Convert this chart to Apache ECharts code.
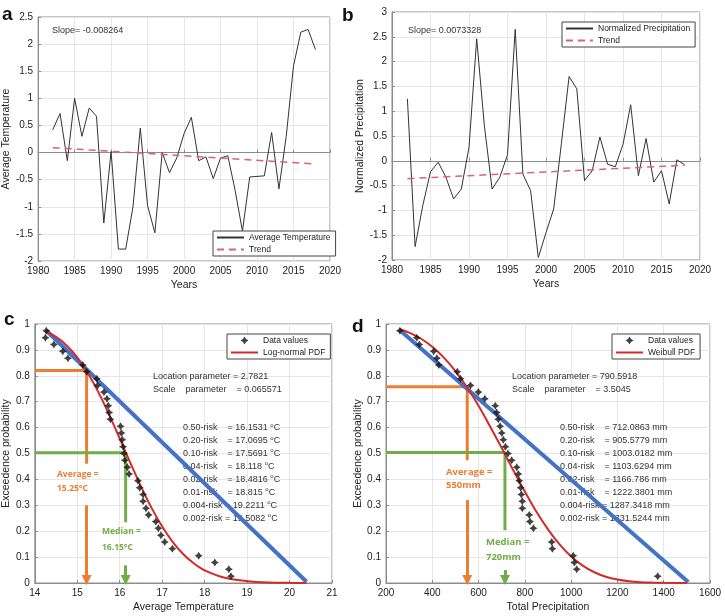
<!DOCTYPE html>
<html><head><meta charset="utf-8">
<script src="https://cdn.jsdelivr.net/npm/echarts@6/dist/echarts.min.js"></script>
<style>html,body{margin:0;padding:0;background:#fff}#c{width:725px;height:616px}</style>
</head><body><div id="c"></div>
<script>
// ---------- Panel a / b : time series ----------
const years = [1982,1983,1984,1985,1986,1987,1988,1989,1990,1991,1992,1993,1994,1995,1996,1997,1998,1999,2000,2001,2002,2003,2004,2005,2006,2007,2008,2009,2010,2011,2012,2013,2014,2015,2016,2017,2018];
const avgTemp = [0.42,0.72,-0.15,1.0,0.3,0.82,0.67,-1.3,0.02,-1.78,-1.78,-1.0,0.45,-0.98,-1.48,0.0,-0.37,-0.1,0.35,0.65,-0.15,-0.08,-0.48,-0.1,-0.06,-0.7,-1.45,-0.45,-0.44,-0.43,0.37,-0.67,0.3,1.6,2.22,2.27,1.9];
const tempTrendYears = [1982, 2018];
const tempTrend = [0.09, -0.21];
const normPrecip = [1.25,-1.73,-0.9,-0.22,-0.03,-0.33,-0.77,-0.57,0.27,2.46,0.7,-0.57,-0.33,0.12,2.65,-0.27,-0.6,-1.95,-1.45,-0.97,0.35,1.7,1.45,-0.4,-0.2,0.48,-0.07,-0.12,0.33,1.13,-0.3,0.45,-0.43,-0.2,-0.87,0.02,-0.08];
const precipTrendYears = [1982, 2018];
const precipTrend = [-0.36, -0.09];

// ---------- Panel c : temperature exceedance ----------
const tempObs = [14.27,14.25,14.45,14.66,14.78,15.13,15.22,15.46,15.48,15.63,15.70,15.73,15.75,15.78,16.02,16.04,16.06,16.08,16.10,16.12,16.18,16.22,16.43,16.47,16.55,16.55,16.62,16.68,16.85,16.91,16.97,17.06,17.24,17.86,18.24,18.57,18.62];
const tempObsProb = [0.974,0.947,0.921,0.895,0.868,0.842,0.816,0.789,0.763,0.737,0.711,0.684,0.658,0.632,0.605,0.579,0.553,0.526,0.500,0.474,0.447,0.421,0.395,0.368,0.342,0.316,0.289,0.263,0.237,0.211,0.184,0.158,0.132,0.105,0.079,0.053,0.026];
const lognormX = [14.25,14.5,14.75,15,15.25,15.5,15.75,16,16.25,16.5,16.75,17,17.25,17.5,17.75,18,18.5,19,19.5,20,20.4];
const lognormY = [0.972,0.950,0.917,0.871,0.810,0.736,0.650,0.558,0.464,0.373,0.290,0.218,0.158,0.111,0.075,0.049,0.019,0.007,0.002,0.0006,0.0002];
const tempLinX = [14.27, 20.4];
const tempLinY = [0.975, 0.005];
const tempAvgGuide = [[14,0.82],[15.22,0.82],[15.22,0.46]];
const tempAvgArrow = [[15.22,0.30],[15.22,0.012]];
const tempMedGuide = [[14,0.503],[16.14,0.503],[16.14,0.235]];
const tempMedArrow = [[16.14,0.068],[16.14,0.012]];
const tempRisk = [['0.50','16.1531'],['0.20','17.0695'],['0.10','17.5691'],['0.04','18.118'],['0.02','18.4816'],['0.01','18.815'],['0.004','19.2211'],['0.002','19.5082']];

// ---------- Panel d : precipitation exceedance ----------
const precipObs = [260,333,344,406,420,428,508,522,565,599,627,672,678,685,693,700,707,716,727,743,765,772,776,782,785,789,789,819,822,837,916,919,1009,1014,1024,1374];
const precipObsProb = [0.974,0.947,0.921,0.895,0.868,0.842,0.816,0.789,0.763,0.737,0.711,0.684,0.658,0.632,0.605,0.579,0.553,0.526,0.500,0.474,0.447,0.421,0.395,0.368,0.342,0.316,0.289,0.263,0.237,0.211,0.158,0.132,0.105,0.079,0.053,0.026];
const weibullX = [260,300,350,400,450,500,550,600,650,700,750,800,850,900,950,1000,1050,1100,1150,1200,1250,1300,1350,1400,1500];
const weibullY = [0.980,0.967,0.944,0.912,0.870,0.818,0.756,0.684,0.604,0.521,0.435,0.353,0.275,0.207,0.149,0.102,0.067,0.0415,0.0243,0.0134,0.0069,0.0033,0.0015,0.0006,0.0001];
const precipLinX = [258, 1506];
const precipLinY = [0.978, 0.004];
const precipAvgGuide = [[200,0.758],[551,0.758],[551,0.474]];
const precipAvgArrow = [[551,0.32],[551,0.012]];
const precipMedGuide = [[200,0.504],[714,0.504],[714,0.204]];
const precipMedArrow = [[714,0.05],[714,0.012]];
const precipRisk = [['0.50','712.0863'],['0.20','905.5779'],['0.10','1003.0182'],['0.04','1103.6294'],['0.02','1166.786'],['0.01','1222.3801'],['0.004','1287.3418'],['0.002','1331.5244']];

// ---------- build ----------
const FONT = 'Liberation Sans, Arial, sans-serif';
const ORANGE = '#ED7D31', GREEN = '#70AD47', BLUE = '#4472C4', RED = '#D42A2A', TREND = '#D9646C';
const zip = (xs, ys) => xs.map((x, i) => [x, ys[i]]);
const STAR = 'path://M0,-5L1.9,-1.9L5,0L1.9,1.9L0,5L-1.9,1.9L-5,0L-1.9,-1.9Z';

function axis(gi, min, max, interval, name, nameGap) {
  return {
    type: 'value', gridIndex: gi, min, max, interval, name,
    nameLocation: 'middle', nameGap,
    nameTextStyle: { fontSize: 10.5, color: '#222', fontFamily: FONT },
    axisLabel: { fontSize: 10, color: '#222', fontFamily: FONT, margin: 5, formatter: v => String(+v.toFixed(4)) },
    axisLine: { show: true, lineStyle: { color: '#8c8c8c' } },
    axisTick: { show: true, inside: true, length: 3, lineStyle: { color: '#8c8c8c' } },
    splitLine: { show: true, lineStyle: { color: '#e6e6e6' } }
  };
}
const grid = (l, t, w, h) => ({ left: l, top: t, width: w, height: h, show: true, borderColor: '#8c8c8c', borderWidth: 1, backgroundColor: '#fff' });

const noSym = { color: 'rgba(0,0,0,0)', borderColor: 'rgba(0,0,0,0)', borderWidth: 0 };
function legend(left, top, data) {
  return { left, top, orient: 'vertical',
    data: data.map(d => typeof d === 'string' ? { name: d, itemStyle: noSym } : d),
    itemWidth: 27, itemHeight: 8, itemGap: 3,
    padding: [2, 5, 2, 3], borderColor: '#444', borderWidth: 1, backgroundColor: '#fff', borderRadius: 0,
    selectedMode: false, textStyle: { fontSize: 8.5, color: '#222', fontFamily: FONT } };
}

function guide(gi, data, color) {
  return { type: 'line', xAxisIndex: gi, yAxisIndex: gi, data, symbol: 'none', silent: true, z: 2,
    lineStyle: { color, width: 3 }, itemStyle: { color } };
}
function arrow(gi, seg, color) {
  return { type: 'line', xAxisIndex: gi, yAxisIndex: gi, data: [], symbol: 'none', silent: true,
    markLine: { silent: true, symbol: ['none', 'triangle'], symbolSize: 10, label: { show: false },
      lineStyle: { type: 'solid', color, width: 3 }, emphasis: { disabled: true },
      data: [[{ coord: seg[0] }, { coord: seg[1] }]] } };
}

const series = [
  { name: 'Average Temperature', type: 'line', xAxisIndex: 0, yAxisIndex: 0, data: zip(years, avgTemp), symbol: 'none', lineStyle: { color: '#333', width: 1 }, itemStyle: { color: '#333' } },
  { name: 'Trend', type: 'line', xAxisIndex: 0, yAxisIndex: 0, data: zip(tempTrendYears, tempTrend), symbol: 'none', lineStyle: { color: TREND, width: 1.5, type: [7, 5] }, itemStyle: { color: TREND } },
  { name: 'Normalized Precipitation', type: 'line', xAxisIndex: 1, yAxisIndex: 1, data: zip(years, normPrecip), symbol: 'none', lineStyle: { color: '#333', width: 1 }, itemStyle: { color: '#333' } },
  { name: 'Trend', type: 'line', xAxisIndex: 1, yAxisIndex: 1, data: zip(precipTrendYears, precipTrend), symbol: 'none', lineStyle: { color: TREND, width: 1.5, type: [7, 5] }, itemStyle: { color: TREND } },

  guide(2, tempAvgGuide, ORANGE), arrow(2, tempAvgArrow, ORANGE),
  guide(2, tempMedGuide, GREEN), arrow(2, tempMedArrow, GREEN),
  { type: 'line', xAxisIndex: 2, yAxisIndex: 2, data: zip(tempLinX, tempLinY), symbol: 'none', lineStyle: { color: BLUE, width: 4 }, silent: true },
  { name: 'Log-normal PDF', type: 'line', xAxisIndex: 2, yAxisIndex: 2, data: zip(lognormX, lognormY), symbol: 'none', smooth: 0.3, lineStyle: { color: RED, width: 2 }, itemStyle: { color: RED } },
  { name: 'Data values', type: 'scatter', xAxisIndex: 2, yAxisIndex: 2, data: zip(tempObs, tempObsProb), symbol: STAR, symbolSize: 8, symbolKeepAspect: true, itemStyle: { color: '#111' }, z: 5 },

  guide(3, precipAvgGuide, ORANGE), arrow(3, precipAvgArrow, ORANGE),
  guide(3, precipMedGuide, GREEN), arrow(3, precipMedArrow, GREEN),
  { type: 'line', xAxisIndex: 3, yAxisIndex: 3, data: zip(precipLinX, precipLinY), symbol: 'none', lineStyle: { color: BLUE, width: 4 }, silent: true },
  { name: 'Weibull PDF', type: 'line', xAxisIndex: 3, yAxisIndex: 3, data: zip(weibullX, weibullY), symbol: 'none', smooth: 0.3, lineStyle: { color: RED, width: 2 }, itemStyle: { color: RED } },
  { name: 'Data values', type: 'scatter', xAxisIndex: 3, yAxisIndex: 3, data: zip(precipObs, precipObsProb), symbol: STAR, symbolSize: 8, symbolKeepAspect: true, itemStyle: { color: '#111' }, z: 5 }
];

// text annotations
const T = (text, x, y, o = {}) => ({ type: 'text', z: 1, x, y, silent: true,
  style: Object.assign({ text, fontSize: 9, fontFamily: FONT, fill: '#333', verticalAlign: 'middle', align: 'left' }, o) });
const sup = { s: { fontSize: 6, fontFamily: FONT, fill: '#333', verticalAlign: 'top', padding: [0, 0, 6, 0] } };
const CAL = 'Open Sans, sans-serif';
const graphics = [
  T('a', 2, 15, { fontSize: 19, fontWeight: 'bold', fill: '#111' }),
  T('b', 342, 16, { fontSize: 19, fontWeight: 'bold', fill: '#111' }),
  T('c', 4, 320, { fontSize: 19, fontWeight: 'bold', fill: '#111' }),
  T('d', 352, 327, { fontSize: 19, fontWeight: 'bold', fill: '#111' }),
  T('Slope= -0.008264', 52, 31),
  T('Slope= 0.0073328', 408, 31),
  T('Location parameter = 2.7821', 153, 377),
  T('Scale    parameter    = 0.065571', 153, 390),
  T('Location parameter = 790.5918', 512, 377),
  T('Scale    parameter    = 3.5045', 512, 390),
  T('Average =', 57, 475, { fontSize: 8.5, fontWeight: 'bold', fill: ORANGE, fontFamily: CAL }),
  T('15.25°C', 57, 489, { fontSize: 8.5, fontWeight: 'bold', fill: ORANGE, fontFamily: CAL }),
  T('Median =', 102, 532, { fontSize: 8.5, fontWeight: 'bold', fill: GREEN, fontFamily: CAL }),
  T('16.15°C', 102, 548, { fontSize: 8.5, fontWeight: 'bold', fill: GREEN, fontFamily: CAL }),
  T('Average =', 446, 472, { fontSize: 9.5, fontWeight: 'bold', fill: ORANGE, fontFamily: CAL }),
  T('550mm', 446, 485, { fontSize: 9.5, fontWeight: 'bold', fill: ORANGE, fontFamily: CAL }),
  T('Median =', 486, 542, { fontSize: 9.5, fontWeight: 'bold', fill: GREEN, fontFamily: CAL }),
  T('720mm', 486, 557, { fontSize: 9.5, fontWeight: 'bold', fill: GREEN, fontFamily: CAL })
];
tempRisk.forEach((r, i) => {
  const lbl = (r[0] + '-risk').padEnd(10, ' ');
  graphics.push(T(lbl + (r[0].length > 4 ? ' ' : '   ') + '= ' + r[1] + ' {s|o}C', 183, 428 + i * 12.9, { rich: sup }));
});
precipRisk.forEach((r, i) => {
  const lbl = (r[0] + '-risk').padEnd(10, ' ');
  graphics.push(T(lbl + (r[0].length > 4 ? ' ' : '   ') + '= ' + r[1] + ' mm', 560, 428 + i * 12.9));
});

const chart = echarts.init(document.getElementById('c'), null, { renderer: 'canvas' });
chart.setOption({
  animation: false,
  backgroundColor: '#fff',
  textStyle: { fontFamily: FONT },
  grid: [grid(37, 17, 293, 244), grid(392, 12, 308, 248), grid(32, 324, 300, 259), grid(386, 324, 324, 259)],
  xAxis: [axis(0, 1980, 2020, 5, 'Years', 19), axis(1, 1980, 2020, 5, 'Years', 19),
          axis(2, 14, 21, 1, 'Average Temperature', 19), axis(3, 200, 1600, 200, 'Total Precipitation', 19)],
  yAxis: [axis(0, -2, 2.5, 0.5, 'Average Temperature', 21), axis(1, -2, 3, 0.5, 'Normalized Precipitation', 22),
          axis(2, 0, 1, 0.1, 'Exceedence probability', 20), axis(3, 0, 1, 0.1, 'Exceedence probability', 22)],
  legend: [legend(213, 231, ['Average Temperature', 'Trend']), legend(562, 22, ['Normalized Precipitation', 'Trend']),
           legend(227, 334, [{ name: 'Data values' }, 'Log-normal PDF']), legend(612, 334, [{ name: 'Data values' }, 'Weibull PDF'])],
  series,
  graphic: graphics
});
</script></body></html>
